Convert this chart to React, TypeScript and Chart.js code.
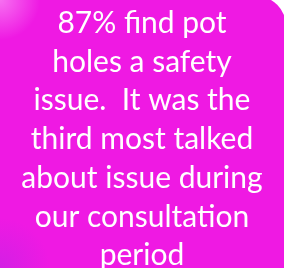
import React, { useEffect, useRef } from "react";
import { Chart, registerables } from "chart.js";

Chart.register(...registerables);

const textLines: string[] = [
  "87% find pot",
  "holes a safety",
  "issue.  It was the",
  "third most talked",
  "about issue during",
  "our consultation",
  "period",
];
const categories: string[] = [];
const values: number[] = [];

const backdrop = {
  id: "backdrop",
  beforeDraw(chart: any) {
    const { ctx, width, height } = chart;
    ctx.save();
    ctx.fillStyle = "#ffffff";
    ctx.fillRect(0, 0, width, height);
    ctx.beginPath();
    ctx.roundRect(-60, -4, width + 62, height + 60, 30);
    ctx.fillStyle = "#EF19E3";
    ctx.fill();
    const g = ctx.createRadialGradient(0, height, 0, 0, height, 50);
    g.addColorStop(0, "rgba(170,40,230,0.4)");
    g.addColorStop(1, "rgba(170,40,230,0)");
    ctx.fillStyle = g;
    ctx.fill();
    const g2 = ctx.createRadialGradient(0, 0, 0, 0, 0, 40);
    g2.addColorStop(0, "rgba(255,200,255,0.5)");
    g2.addColorStop(1, "rgba(255,200,255,0)");
    ctx.fillStyle = g2;
    ctx.fill();
    ctx.restore();
  },
};

export default function App() {
  const ref = useRef<HTMLCanvasElement>(null);
  useEffect(() => {
    document.body.style.margin = "0";
    const chart = new Chart(ref.current!, {
      type: "bar",
      data: { labels: categories, datasets: [{ data: values }] },
      options: {
        animation: false,
        responsive: false,
        layout: { padding: 0 },
        scales: { x: { display: false }, y: { display: false } },
        plugins: {
          legend: { display: false },
          tooltip: { enabled: false },
          title: {
            display: true,
            text: textLines,
            color: "#ffffff",
            font: { family: "Lato", size: 30, weight: "normal", lineHeight: 1.29 },
            padding: { top: 4, bottom: 0 },
          },
        },
      },
      plugins: [backdrop],
    });
    return () => chart.destroy();
  }, []);
  return <canvas ref={ref} width={284} height={268} style={{ display: "block" }} />;
}
